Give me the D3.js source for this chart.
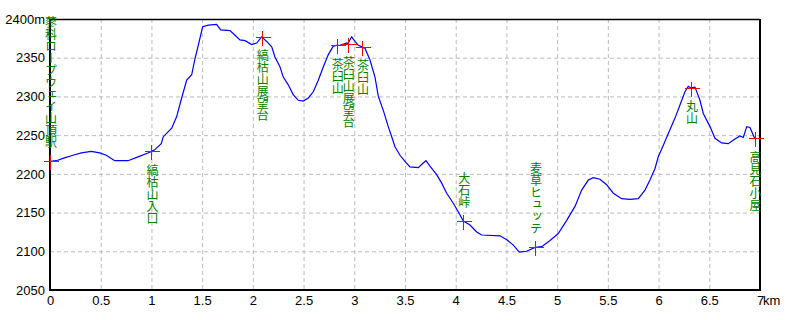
<!DOCTYPE html>
<html>
<head>
<meta charset="utf-8">
<script src="https://cdn.jsdelivr.net/npm/d3@7"></script>
<style>
  body { margin: 0; background: #fff; }
  .tick text { font-family: "Liberation Sans Narrow", "Liberation Sans", Arial, sans-serif; font-size: 13px; fill: #000; }
  .wp-label { font-family: "Noto Sans CJK JP", sans-serif; font-size: 12px; fill: #008000; writing-mode: vertical-rl; }
</style>
</head>
<body>
<svg id="profile"></svg>
<script>
// 1: DATA
const distKm = [0, 0.062, 0.128, 0.227, 0.309, 0.407, 0.49, 0.555, 0.638, 0.769, 0.868, 0.966, 1.0, 1.032, 1.097,
  1.117, 1.2, 1.249, 1.298, 1.348, 1.397, 1.43, 1.462, 1.505, 1.561, 1.643, 1.683, 1.775, 1.824, 1.873, 1.923,
  1.989, 2.038, 2.087, 2.136, 2.186, 2.218, 2.268, 2.3, 2.349, 2.399, 2.448, 2.497, 2.547, 2.596, 2.645, 2.694,
  2.744, 2.793, 2.826, 2.859, 2.925, 2.935, 2.974, 3.007, 3.04, 3.076, 3.106, 3.155, 3.204, 3.237, 3.286, 3.335,
  3.369, 3.401, 3.451, 3.5, 3.549, 3.631, 3.68, 3.707, 3.746, 3.812, 3.862, 3.911, 3.976, 4.025, 4.075, 4.141,
  4.207, 4.256, 4.437, 4.503, 4.568, 4.627, 4.7, 4.782, 4.848, 4.93, 5.011, 5.094, 5.176, 5.242, 5.307, 5.356,
  5.422, 5.488, 5.554, 5.636, 5.718, 5.8, 5.866, 5.915, 5.965, 5.997, 6.047, 6.096, 6.162, 6.211, 6.26, 6.293,
  6.32, 6.359, 6.408, 6.441, 6.507, 6.556, 6.622, 6.687, 6.753, 6.803, 6.835, 6.869, 6.901, 6.947];
const elevM = [2216, 2217, 2220, 2224, 2227, 2229, 2227, 2224, 2217, 2217, 2222, 2227, 2229, 2231, 2239,
  2248, 2259, 2274, 2298, 2321, 2328, 2349, 2366, 2390, 2392, 2393, 2386, 2385, 2379, 2373, 2372,
  2367, 2369, 2377, 2371, 2364, 2351, 2338, 2325, 2315, 2302, 2295, 2294, 2298, 2306, 2321, 2338,
  2354, 2365, 2366, 2366, 2369, 2368, 2377, 2371, 2366, 2364, 2362, 2347, 2325, 2300, 2282, 2261,
  2248, 2235, 2224, 2216, 2209, 2208, 2214, 2217, 2210, 2199, 2188, 2175, 2162, 2151, 2139, 2134,
  2125, 2121, 2120, 2115, 2108, 2099, 2100, 2105, 2106, 2114, 2123, 2140, 2158, 2179, 2192, 2195,
  2193, 2186, 2175, 2168, 2167, 2168, 2179, 2192, 2207, 2222, 2237, 2252, 2272, 2289, 2306, 2313,
  2311, 2312, 2295, 2278, 2261, 2246, 2240, 2239, 2245, 2249, 2247, 2261, 2260, 2246];

const wpNames = ["蓼科ロープウェイ山頂駅", "縞枯山入口", "縞枯山展望台", "茶臼山", "茶臼山展望台", "茶臼山",
  "大石峠", "麦草ヒュッテ", "丸山", "高見石小屋"];
const wpKm = [0, 1.0, 2.087, 2.826, 2.935, 3.076, 4.075, 4.782, 6.32, 6.947];
const wpElev = [2216, 2229, 2377, 2366, 2368, 2364, 2139, 2105, 2311, 2246];

const xTicks = [0, 0.5, 1, 1.5, 2, 2.5, 3, 3.5, 4, 4.5, 5, 5.5, 6, 6.5, 7];
const yTicks = [2050, 2100, 2150, 2200, 2250, 2300, 2350, 2400];

// 2: LAYOUT
const W = 800, H = 320;
const plotL = 50, plotR = 760, plotT = 19, plotB = 290;
// labels drawn above their marker instead of below
const labelAbove = ["蓼科ロープウェイ山頂駅", "大石峠", "麦草ヒュッテ"];

const svg = d3.select("#profile").attr("width", W).attr("height", H);

// 3: SCALES
const x = d3.scaleLinear().domain([0, 7]).range([plotL, plotR]);
const y = d3.scaleLinear().domain([2050, 2400]).range([plotB, plotT]);

// 4: GRID
svg.append("g").selectAll("line")
  .data(xTicks.slice(1, -1))
  .join("line")
  .attr("x1", d => x(d) + 0.5).attr("x2", d => x(d) + 0.5)
  .attr("y1", plotT).attr("y2", plotB)
  .attr("stroke", "#bbb").attr("stroke-dasharray", "4,3");

svg.append("g").selectAll("line")
  .data(yTicks.slice(1, -1))
  .join("line")
  .attr("x1", plotL).attr("x2", plotR)
  .attr("y1", d => y(d) + 0.5).attr("y2", d => y(d) + 0.5)
  .attr("stroke", "#bbb").attr("stroke-dasharray", "4,3");

// 5: AXES
const xAxis = svg.append("g")
  .attr("transform", `translate(0,${plotB})`)
  .call(d3.axisBottom(x).tickValues(xTicks).tickSize(0).tickPadding(6)
    .tickFormat(d => String(d)));
xAxis.select(".domain").remove();
xAxis.append("text")
  .attr("x", x(7) + 3).attr("y", 6).attr("dy", "0.71em")
  .attr("text-anchor", "start")
  .attr("fill", "#000")
  .style("font-family", "\"Liberation Sans Narrow\", \"Liberation Sans\", sans-serif")
  .style("font-size", "13px")
  .text("km");

const yAxis = svg.append("g")
  .attr("transform", `translate(${plotL},0)`)
  .call(d3.axisLeft(y).tickValues(yTicks).tickSize(0).tickPadding(5)
    .tickFormat(d => d === 2400 ? "2400m" : d));
yAxis.select(".domain").remove();

// frame
svg.append("line").attr("x1", plotL).attr("x2", plotR).attr("y1", plotT + 0.5).attr("y2", plotT + 0.5)
  .attr("stroke", "#000").attr("stroke-width", 1.5);
svg.append("line").attr("x1", plotL).attr("x2", plotR).attr("y1", plotB).attr("y2", plotB)
  .attr("stroke", "#000").attr("stroke-width", 2);
svg.append("line").attr("x1", plotL).attr("x2", plotL).attr("y1", plotT).attr("y2", plotB + 1)
  .attr("stroke", "#000").attr("stroke-width", 2);
svg.append("line").attr("x1", plotR).attr("x2", plotR).attr("y1", plotT).attr("y2", plotB + 1)
  .attr("stroke", "#000").attr("stroke-width", 2);

// 6: PROFILE LINE
const profile = distKm.map((d, i) => ({ km: d, elev: elevM[i] }));
svg.append("path")
  .datum(profile)
  .attr("fill", "none")
  .attr("stroke", "#0000ff")
  .attr("stroke-width", 1.2)
  .attr("d", d3.line().x(d => x(d.km)).y(d => y(d.elev)));

// 7: WAYPOINTS
const waypoints = wpNames.map((n, i) => ({ name: n, km: wpKm[i], elev: wpElev[i] }));

const cross = svg.append("g").selectAll("g")
  .data(waypoints)
  .join("g")
  .attr("transform", d => `translate(${Math.round(x(d.km)) + 0.5},${Math.round(y(d.elev)) + 0.5})`);
cross.append("line").attr("x1", -7).attr("x2", 8).attr("y1", 0).attr("y2", 0)
  .attr("stroke", "#ff0000").attr("shape-rendering", "crispEdges");
cross.append("line").attr("x1", 0).attr("x2", 0).attr("y1", -7).attr("y2", 8)
  .attr("stroke", "#ff0000").attr("shape-rendering", "crispEdges");

svg.append("g").selectAll("text")
  .data(waypoints)
  .join("text")
  .attr("class", "wp-label")
  .attr("x", d => x(d.km) + 1)
  .attr("y", d => labelAbove.includes(d.name) ? y(d.elev) - 13 : y(d.elev) + 13)
  .attr("text-anchor", d => labelAbove.includes(d.name) ? "end" : "start")
  .text(d => d.name);
</script>
</body>
</html>
